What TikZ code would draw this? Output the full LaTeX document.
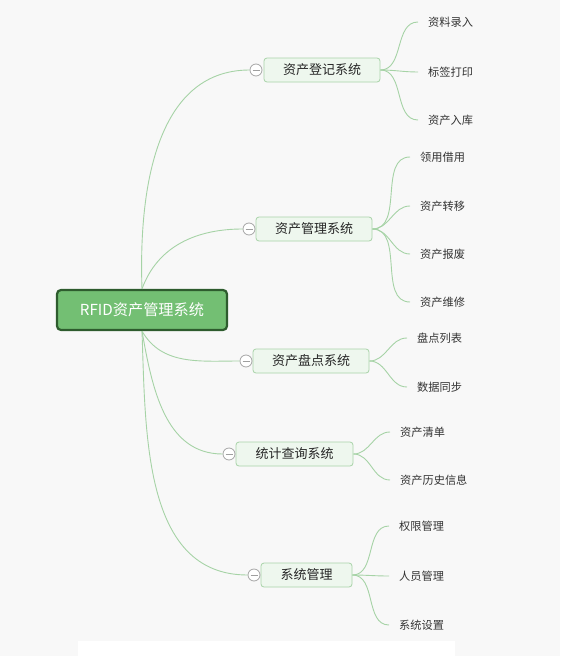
\documentclass[tikz,border=0pt]{standalone}
\usepackage{fontspec}
\setmainfont{Noto Sans CJK SC}
\begin{document}
\begin{tikzpicture}[x=1pt,y=-1pt,
  conn/.style={draw=linkgreen,line width=0.9pt},
  rootbox/.style={draw=rootborder,fill=rootfill,line width=2.2pt,rounded corners=4pt,minimum width=170pt,minimum height=40pt,text=white,font=\fontsize{15.2}{18}\selectfont,inner sep=0pt},
  branchbox/.style={draw=boxborder,fill=boxfill,line width=0.8pt,rounded corners=3pt,minimum height=24pt,font=\fontsize{13}{15}\selectfont,text=black!85,inner sep=0pt},
  toggle/.style={circle,draw=gray!70,fill=white,line width=0.8pt,minimum size=12pt,inner sep=0pt,
     path picture={\draw[gray!75,line width=0.8pt] ([xshift=-3.5pt]path picture bounding box.center) -- ([xshift=3.5pt]path picture bounding box.center);}},
  leaf/.style={anchor=west,inner xsep=10pt,inner ysep=2pt,font=\fontsize{11.2}{13}\selectfont,text=black!80}
]
\definecolor{linkgreen}{HTML}{A6D3A6}
\definecolor{rootfill}{HTML}{73BF73}
\definecolor{rootborder}{HTML}{2E5C2E}
\definecolor{boxfill}{HTML}{EEF7EE}
\definecolor{boxborder}{HTML}{A9D3A9}
\definecolor{bgc}{HTML}{F8F8F8}
\fill[bgc] (0,0) rectangle (560,656);
\fill[white] (78,641) rectangle (455,656);
\useasboundingbox (0,0) rectangle (560,656);

\node[rootbox] (root) at (142,310) {RFID资产管理系统};

\node[branchbox,minimum width=116pt] (b1) at (322,70) {资产登记系统};
\node[branchbox,minimum width=116pt] (b2) at (314,229) {资产管理系统};
\node[branchbox,minimum width=116pt] (b3) at (311,361) {资产盘点系统};
\node[branchbox,minimum width=117pt] (b4) at (294.5,454) {统计查询系统};
\node[branchbox,minimum width=91pt] (b5) at (306.5,575) {系统管理};

\node[toggle] (c1) at (256,70) {};
\node[toggle] (c2) at (249,229) {};
\node[toggle] (c3) at (246,361) {};
\node[toggle] (c4) at (229,454) {};
\node[toggle] (c5) at (254,575) {};

\draw[conn] (root.north) to[out=92,in=180] (c1.west);
\draw[conn] (root.north) to[out=70,in=180] (c2.west);
\draw[conn] (root.south) to[out=-60,in=180] (c3.west);
\draw[conn] (root.south) to[out=-80,in=180] (c4.west);
\draw[conn] (root.south) to[out=-88,in=180] (c5.west);

\node[leaf] (l11) at (418,22) {资料录入};
\node[leaf] (l12) at (418,72) {标签打印};
\node[leaf] (l13) at (418,120) {资产入库};
\node[leaf] (l21) at (410,157) {领用借用};
\node[leaf] (l22) at (410,206) {资产转移};
\node[leaf] (l23) at (410,254) {资产报废};
\node[leaf] (l24) at (410,302) {资产维修};
\node[leaf] (l31) at (407,338) {盘点列表};
\node[leaf] (l32) at (407,387) {数据同步};
\node[leaf] (l41) at (390,432) {资产清单};
\node[leaf] (l42) at (390,480) {资产历史信息};
\node[leaf] (l51) at (389,526) {权限管理};
\node[leaf] (l52) at (389,576) {人员管理};
\node[leaf] (l53) at (389,625) {系统设置};

\foreach \b/\l in {b1/l11,b1/l12,b1/l13,b2/l21,b2/l22,b2/l23,b2/l24,b3/l31,b3/l32,b4/l41,b4/l42,b5/l51,b5/l52,b5/l53}
  \draw[conn] (\b.east) to[out=0,in=180] (\l.west);
\end{tikzpicture}
\end{document}
